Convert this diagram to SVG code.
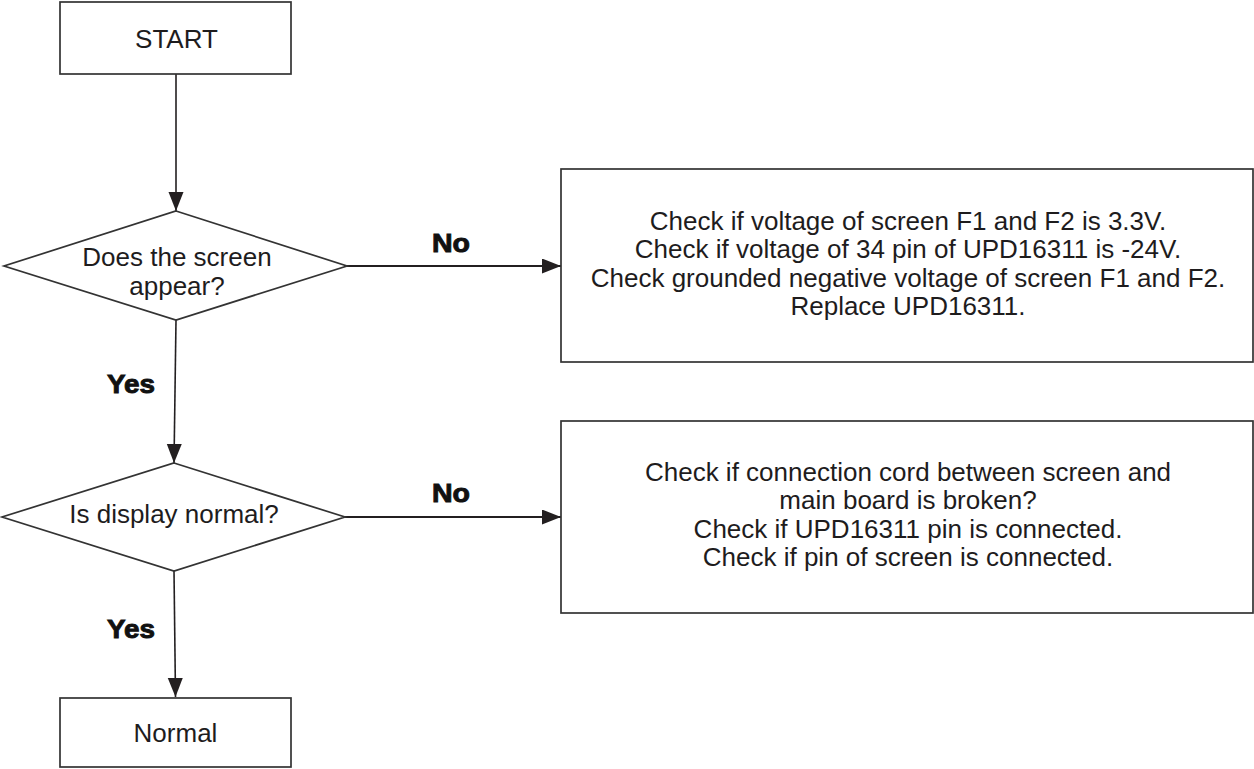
<svg xmlns="http://www.w3.org/2000/svg" width="1254" height="769" viewBox="0 0 1254 769">
  <style>
    .box { fill: #ffffff; stroke: #333333; stroke-width: 1.7; }
    .txt { font-family: "Liberation Sans", Arial, Helvetica, sans-serif; font-size: 26px; fill: #1e1c1d; text-anchor: middle; }
    .lbl { font-family: "Liberation Sans", Arial, Helvetica, sans-serif; font-size: 25px; font-weight: bold; fill: #111111; stroke: #111111; stroke-width: 0.9; text-anchor: middle; }
    .conn { fill: none; stroke: #231f20; stroke-width: 1.6; }
    .conn-h { fill: none; stroke: #231f20; stroke-width: 2.2; }
  </style>
  <defs>
    <marker id="arrow" markerUnits="userSpaceOnUse" markerWidth="20" markerHeight="16" refX="19" refY="7.5" orient="auto">
      <path d="M0,0 L19,7.5 L0,15 z" fill="#231f20"/>
    </marker>
  </defs>
  <rect width="1254" height="769" fill="#ffffff"/>

  <g id="connectors">
    <line class="conn" x1="176" y1="74" x2="176" y2="211" marker-end="url(#arrow)"/>
    <line class="conn-h" x1="347" y1="266" x2="561" y2="266" marker-end="url(#arrow)"/>
    <line class="conn" x1="176" y1="320" x2="174" y2="463" marker-end="url(#arrow)"/>
    <line class="conn-h" x1="345" y1="517" x2="561" y2="517" marker-end="url(#arrow)"/>
    <line class="conn" x1="174" y1="571" x2="175.5" y2="697" marker-end="url(#arrow)"/>
    <text class="lbl" x="451" y="252" textLength="38" lengthAdjust="spacingAndGlyphs">No</text>
    <text class="lbl" x="131" y="393" textLength="48" lengthAdjust="spacingAndGlyphs">Yes</text>
    <text class="lbl" x="451" y="502" textLength="38" lengthAdjust="spacingAndGlyphs">No</text>
    <text class="lbl" x="131" y="638" textLength="48" lengthAdjust="spacingAndGlyphs">Yes</text>
  </g>

  <g id="start">
    <rect class="box" x="60" y="2" width="231" height="72"/>
    <text class="txt" x="176.5" y="48">START</text>
  </g>

  <g id="decision1">
    <polygon class="box" points="176,211 347,266 176,320 4,266"/>
    <text class="txt" x="177" y="266">Does the screen</text>
    <text class="txt" x="177" y="295">appear?</text>
  </g>

  <g id="action1">
    <rect class="box" x="561" y="169" width="692" height="193"/>
    <text class="txt" x="908" y="229.5">Check if voltage of screen F1 and F2 is 3.3V.</text>
    <text class="txt" x="908" y="258">Check if voltage of 34 pin of UPD16311 is -24V.</text>
    <text class="txt" x="908" y="286.5">Check grounded negative voltage of screen F1 and F2.</text>
    <text class="txt" x="908" y="315">Replace UPD16311.</text>
  </g>

  <g id="decision2">
    <polygon class="box" points="174,463 345,517 174,571 2,517"/>
    <text class="txt" x="174" y="523">Is display normal?</text>
  </g>

  <g id="action2">
    <rect class="box" x="561" y="421" width="692" height="192"/>
    <text class="txt" x="908" y="480.5">Check if connection cord between screen and</text>
    <text class="txt" x="908" y="509">main board is broken?</text>
    <text class="txt" x="908" y="537.5">Check if UPD16311 pin is connected.</text>
    <text class="txt" x="908" y="566">Check if pin of screen is connected.</text>
  </g>

  <g id="normal">
    <rect class="box" x="60" y="698" width="231" height="69"/>
    <text class="txt" x="175.5" y="742">Normal</text>
  </g>
</svg>
